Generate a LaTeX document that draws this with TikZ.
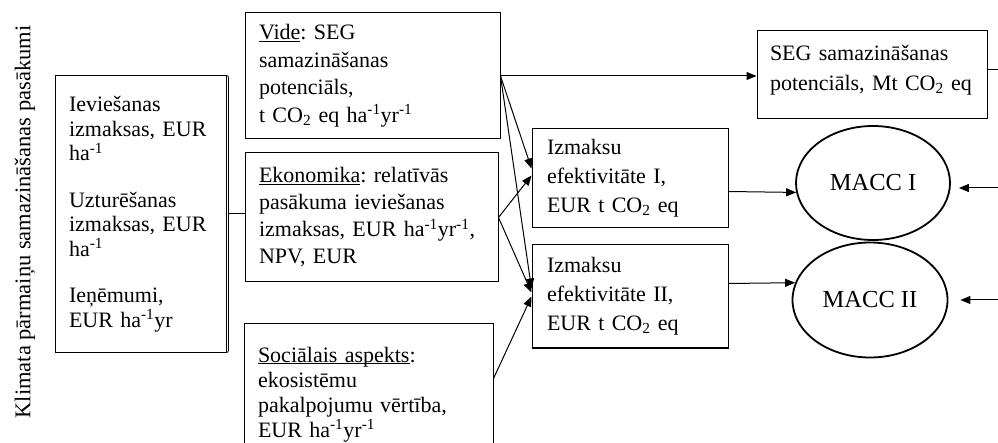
\documentclass[tikz,border=0pt]{standalone}
\usepackage{fontspec}
\setmainfont{Liberation Serif}
\usetikzlibrary{arrows.meta,shapes.geometric,calc}
\tikzset{
  box/.style={draw, line width=1pt, inner sep=0pt, inner xsep=14pt, align=left},
  macc/.style={draw, ellipse, line width=1.8pt, inner sep=0pt,
    font=\fontsize{24.5}{28}\selectfont},
  arr/.style={-{Triangle[length=10pt,width=8pt]}, line width=1pt},
}
\def\fs#1{\fontsize{22}{#1}\selectfont}
\def\sup#1{\textsuperscript{#1}}
\def\ul#1{\underline{\smash{#1}}}
\frenchspacing

\begin{document}
\begin{tikzpicture}[x=1pt,y=-1pt]
  \useasboundingbox (0,0) rectangle (998,443);
  % left column
  \node[rotate=90, font=\fontsize{22.5}{26}\selectfont] (title) at (25,222)
    {Klimata pārmaiņu samazināšanas pasākumi};
  \node[box, minimum width=171pt, text width=143pt, minimum height=276pt,
    font=\fs{24.5}] (costs) at (140.5,214)
    {Ieviešanas\\ izmaksas, EUR\\ ha\sup{-1}\\[22pt]
     Uzturēšanas\\ izmaksas, EUR\\ ha\sup{-1}\\[22pt]
     Ieņēmumi,\\ EUR ha\sup{-1}yr};
  \draw[line width=0.8pt, rounded corners=2pt]
    ([xshift=-3pt]costs.north east) -- ([xshift=2pt]costs.north east)
    -- ([xshift=2pt]costs.south east) -- ([xshift=-3pt]costs.south east);
  % three aspects
  \node[box, minimum width=255pt, text width=227pt, minimum height=126pt, font=\fs{27.5}]
    (vide) at (372.5,76)
    {\ul{Vide}: SEG\\ samazināšanas\\ potenciāls,\\
     t CO\textsubscript{2} eq ha\sup{-1}yr\sup{-1}};
  \node[box, minimum width=253pt, text width=225pt, minimum height=129pt, font=\fs{27}]
    (eko) at (371.5,217.5)
    {\ul{Ekonomika}: relatīvās\\ pasākuma ieviešanas\\
     izmaksas, EUR ha\sup{-1}yr\sup{-1},\\ NPV, EUR};
  \node[box, minimum width=249pt, text width=221pt, minimum height=146pt, font=\fs{25}]
    (soc) at (368.5,397)
    {\ul{Sociālais aspekts}:\\ ekosistēmu\\ pakalpojumu vērtība,\\
     EUR ha\sup{-1}yr\sup{-1}};
  % results
  \node[box, inner xsep=15pt, minimum width=196pt, text width=166pt, minimum height=99pt,
    font=\fs{29}] (iz1) at (630,178.5)
    {Izmaksu\\ efektivitāte I,\\ EUR t CO\textsubscript{2} eq};
  \node[box, inner xsep=15pt, minimum width=196pt, text width=166pt, minimum height=103pt,
    font=\fs{29}] (iz2) at (630,296.5)
    {Izmaksu\\ efektivitāte II,\\ EUR t CO\textsubscript{2} eq};
  \node[box, inner xsep=13pt, minimum width=230pt, text width=204pt, minimum height=88pt,
    font=\fs{30}] (seg) at (872,75)
    {SEG samazināšanas\\ potenciāls, Mt CO\textsubscript{2} eq\rule[-14pt]{0pt}{14pt}};
  \node[macc, minimum width=154pt, minimum height=114pt] (m1) at (873,183) {MACC I};
  \node[macc, minimum width=155pt, minimum height=115pt] (m2) at (870,300) {MACC II};
  % connectors
  \draw[line width=1pt] (costs.east) ++(2,0) -- (costs.east -| eko.west);
  \draw[arr] (vide.east) -- (vide.east -| seg.west);
  \draw[arr] (vide.east) -- ($(iz1.west)+(0,-10)$);
  \draw[arr] (vide.east) -- ($(iz2.west)+(0,-8)$);
  \draw[arr] (eko.east) -- ($(iz1.west)+(0,-3)$);
  \draw[arr] (eko.east) -- ($(iz2.west)+(0,-4)$);
  \draw[arr] ($(soc.north east)+(0,55)$) -- (iz2.west);
  \coordinate (a1) at ($(iz1.east)+(0,13)$);
  \coordinate (a2) at ($(iz2.east)+(0,-13)$);
  \draw[arr] (a1) -- (m1.187);
  \draw[arr] (a2) -- (m2.167);
  \coordinate (segout) at (998,70);
  \coordinate (in1) at (998,188);
  \coordinate (in2) at (998,300);
  \draw[line width=1pt] (seg.east |- segout) -- (segout);
  \draw[arr, shorten >=8pt] (in1) -- (in1 -| m1.east);
  \draw[arr, shorten >=12pt] (in2) -- (in2 -| m2.east);
\end{tikzpicture}
\end{document}
